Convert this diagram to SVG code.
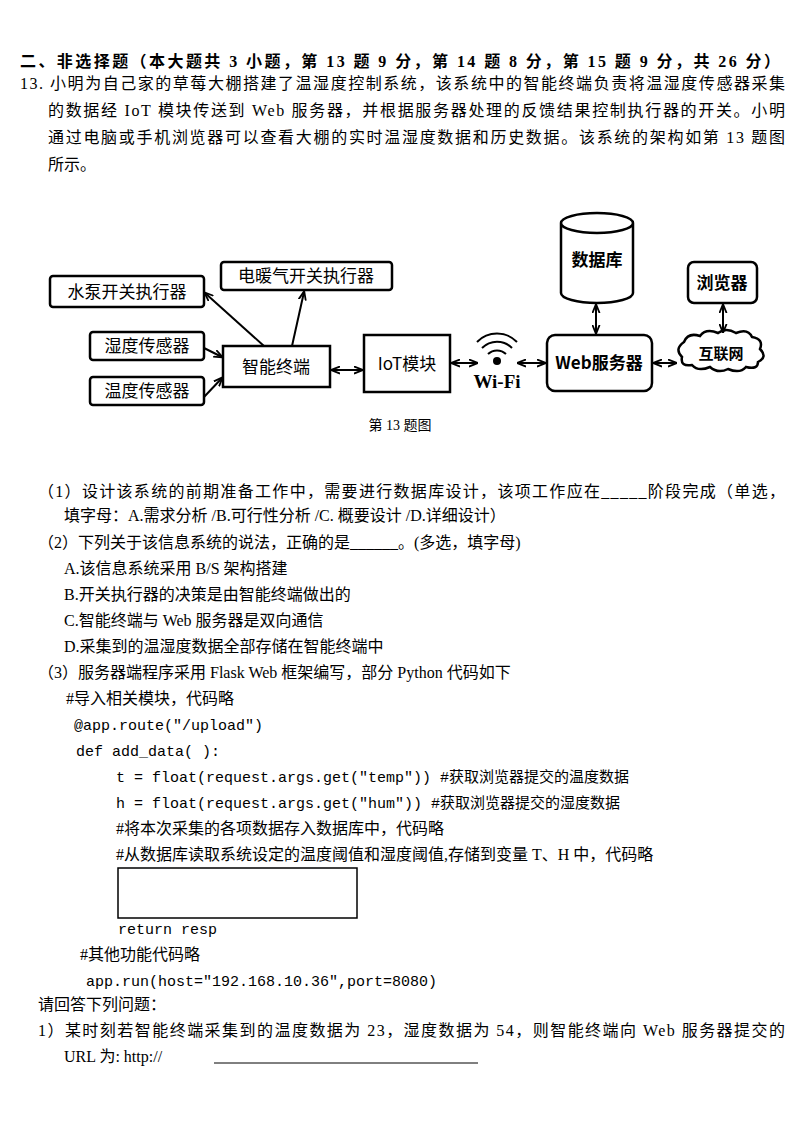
<svg xmlns="http://www.w3.org/2000/svg" width="800" height="1132" viewBox="0 0 800 1132">
<defs>
<marker id="a" viewBox="0 0 10 10" refX="9" refY="5" markerWidth="9" markerHeight="9" markerUnits="userSpaceOnUse" orient="auto-start-reverse"><path d="M0,1L10,5L0,9" fill="none" stroke="#000" stroke-width="2"/></marker>
</defs>
<style>
text{font-family:"Liberation Serif","Noto Sans CJK SC",serif;font-size:16px;fill:#000}
.b{font-weight:bold}
.n{font-family:"Noto Sans CJK SC",sans-serif;font-size:17px}
.m{font-family:"Liberation Mono","Noto Sans CJK SC",monospace;font-size:15px}
.box{fill:#fff;stroke:#000;stroke-width:2.5}
.c{stroke:#000;stroke-width:2;fill:none}
</style>
<rect width="800" height="1132" fill="#fff"/>
<text x="20" y="67" class="b" textLength="760">二、非选择题（本大题共 3 小题，第 13 题 9 分，第 14 题 8 分，第 15 题 9 分，共 26 分）</text>
<text x="20" y="89" textLength="765">13. 小明为自己家的草莓大棚搭建了温湿度控制系统，该系统中的智能终端负责将温湿度传感器采集</text>
<text x="48" y="116" textLength="737">的数据经 IoT 模块传送到 Web 服务器，并根据服务器处理的反馈结果控制执行器的开关。小明</text>
<text x="48" y="143" textLength="737">通过电脑或手机浏览器可以查看大棚的实时温湿度数据和历史数据。该系统的架构如第 13 题图</text>
<text x="48" y="170">所示。</text>

<g id="pump"><rect class="box" x="50" y="276" width="154" height="31" rx="3"/><text class="n" x="127" y="298" text-anchor="middle">水泵开关执行器</text></g>
<g id="heater"><rect class="box" x="221" y="262" width="171" height="28" rx="3"/><text class="n" x="306" y="282" text-anchor="middle">电暖气开关执行器</text></g>
<g id="hum"><rect class="box" x="90" y="332" width="114" height="28" rx="3"/><text class="n" x="147" y="352" text-anchor="middle">湿度传感器</text></g>
<g id="temp"><rect class="box" x="90" y="377" width="114" height="28" rx="3"/><text class="n" x="147" y="397" text-anchor="middle">温度传感器</text></g>
<g id="term"><rect class="box" x="223" y="346" width="107" height="41"/><text class="n" x="276" y="373" text-anchor="middle">智能终端</text></g>
<g id="iot"><rect class="box" x="364" y="335" width="86" height="57"/><text class="n" x="407" y="370" text-anchor="middle">IoT模块</text></g>
<g id="wifi">
<circle cx="497" cy="361" r="4" fill="#000"/>
<path d="M488,354 A13,13 0 0 1 506,354 M482,348 A21,21 0 0 1 512,348 M477,342 A28,28 0 0 1 517,342" class="c" stroke-width="3"/>
<text class="b" x="497" y="388" text-anchor="middle" style="font-size:19px">Wi-Fi</text></g>
<g id="web"><rect class="box" x="547" y="335" width="105" height="56" rx="8"/><text class="n b" x="599" y="369" text-anchor="middle">Web服务器</text></g>
<g id="db"><path class="box" d="M561,223 V293 A36,10 0 0 0 633,293 V223 A36,10 0 0 0 561,223 A36,10 0 0 0 633,223"/><text class="n b" x="597" y="266" text-anchor="middle">数据库</text></g>
<g id="browser"><rect class="box" x="688" y="262" width="69" height="41" rx="6"/><text class="n b" x="722" y="289" text-anchor="middle">浏览器</text></g>
<g id="net"><path class="box" stroke-width="1.5" d="M684,342 q4,-10 16,-6 q6,-8 18,-3 q8,-6 18,0 q12,-5 16,4 q12,2 8,12 q8,8 -2,13 q0,8 -12,5 q-6,7 -18,2 q-10,5 -18,-2 q-12,5 -18,-2 q-12,2 -10,-8 q-8,-8 2,-15z"/><text class="n b" x="721" y="359" text-anchor="middle" style="font-size:15px">互联网</text></g>

<g id="connectors">
<line class="c" x1="264" y1="346" x2="205" y2="293" marker-end="url(#a)"/>
<line class="c" x1="292" y1="346" x2="304" y2="292" marker-end="url(#a)"/>
<line class="c" x1="204" y1="348" x2="222" y2="357" marker-end="url(#a)"/>
<line class="c" x1="204" y1="397" x2="222" y2="378" marker-end="url(#a)"/>
<line class="c" stroke-width="2.5" x1="332" y1="370" x2="362" y2="370" marker-start="url(#a)" marker-end="url(#a)"/>
<line class="c" x1="452" y1="363" x2="477" y2="363" marker-start="url(#a)" marker-end="url(#a)"/>
<line class="c" x1="518" y1="363" x2="545" y2="363" marker-start="url(#a)" marker-end="url(#a)"/>
<line class="c" x1="654" y1="363" x2="676" y2="363" marker-start="url(#a)" marker-end="url(#a)"/>
<line class="c" stroke-width="1.5" x1="596" y1="305" x2="596" y2="333" marker-start="url(#a)" marker-end="url(#a)"/>
<line class="c" stroke-width="1.5" x1="723" y1="305" x2="723" y2="332" marker-start="url(#a)" marker-end="url(#a)"/>
</g>
<text x="400" y="430" text-anchor="middle" style="font-size:14px">第 13 题图</text>

<text x="38" y="497" textLength="747">（1）设计该系统的前期准备工作中，需要进行数据库设计，该项工作应在_____阶段完成（单选，</text>
<text x="64" y="521">填字母：A.需求分析   /B.可行性分析 /C.  概要设计 /D.详细设计）</text>
<text x="38" y="548">（2）下列关于该信息系统的说法，正确的是______。(多选，填字母)</text>
<text x="64" y="574">A.该信息系统采用 B/S 架构搭建</text>
<text x="64" y="600">B.开关执行器的决策是由智能终端做出的</text>
<text x="64" y="626">C.智能终端与  Web 服务器是双向通信</text>
<text x="64" y="652">D.采集到的温湿度数据全部存储在智能终端中</text>
<text x="38" y="678">（3）服务器端程序采用 Flask Web 框架编写，部分 Python 代码如下</text>
<text x="66" y="704">#导入相关模块，代码略</text>
<text x="74" y="730" class="m">@app.route("/upload")</text>
<text x="76" y="756" class="m">def  add_data( ):</text>
<text x="116" y="782" class="m">t = float(request.args.get("temp")) #获取浏览器提交的温度数据</text>
<text x="116" y="808" class="m">h = float(request.args.get("hum"))  #获取浏览器提交的湿度数据</text>
<text x="116" y="834">#将本次采集的各项数据存入数据库中，代码略</text>
<text x="116" y="860">#从数据库读取系统设定的温度阈值和湿度阈值,存储到变量 T、H 中，代码略</text>
<rect x="118" y="868" width="239" height="50" fill="none" stroke="#000" stroke-width="1.5"/>
<text x="118" y="934" class="m">return resp</text>
<text x="80" y="960">#其他功能代码略</text>
<text x="86" y="986" class="m">app.run(host="192.168.10.36",port=8080)</text>
<text x="38" y="1010">请回答下列问题：</text>
<text x="38" y="1036" textLength="747">1）某时刻若智能终端采集到的温度数据为 23，湿度数据为 54，则智能终端向 Web 服务器提交的</text>
<text x="64" y="1062">URL 为:  http://</text>
<line x1="214" y1="1063" x2="478" y2="1063" stroke="#000" stroke-width="1"/>
</svg>
